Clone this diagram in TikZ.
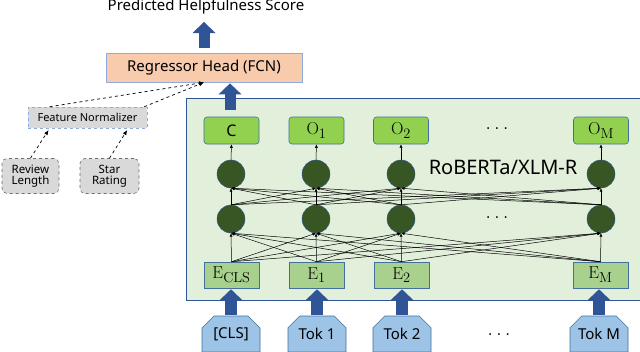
\documentclass[tikz,border=0pt]{standalone}
\usepackage[no-math]{fontspec}
\setmainfont{Noto Sans}
\usetikzlibrary{arrows.meta,shapes.misc}
\definecolor{arrowblue}{RGB}{47,85,151}
\definecolor{peach}{RGB}{248,203,173}
\definecolor{bordblue}{RGB}{143,170,220}
\definecolor{encfill}{RGB}{226,239,218}
\definecolor{outgreen}{RGB}{146,208,80}
\definecolor{embgreen}{RGB}{169,209,142}
\definecolor{nodegreen}{RGB}{55,86,35}
\definecolor{tokblue}{RGB}{157,195,230}
\definecolor{tokbord}{RGB}{65,113,156}
\definecolor{featgray}{RGB}{217,217,217}
\definecolor{dashgray}{RGB}{110,110,110}
\tikzset{
  fs/.style={font=\fontsize{#1}{#1}\selectfont},
  bigarrow/.style={draw=arrowblue, line width=11pt, -{Triangle[width=23pt,length=11pt,line width=0pt,color=arrowblue]}},
  regbox/.style={draw=bordblue, fill=peach, line width=0.8pt, minimum width=196pt, minimum height=29pt, inner sep=0pt, fs=15},
  encbox/.style={draw=arrowblue, fill=encfill, line width=1pt, inner sep=0pt},
  outbox/.style={draw=tokbord, fill=outgreen, rounded corners=3pt, line width=0.6pt, minimum width=55pt, minimum height=27pt, inner sep=0pt},
  embbox/.style={draw=tokbord, fill=embgreen, line width=0.6pt, minimum width=55pt, minimum height=26pt, inner sep=0pt},
  neuron/.style={circle, draw=arrowblue, fill=nodegreen, line width=0.4pt, minimum size=28pt, inner sep=0pt},
  tokbox/.style={chamfered rectangle, chamfered rectangle corners={north west,north east}, chamfered rectangle xsep=6pt, chamfered rectangle ysep=6pt, draw=tokbord, fill=tokblue, line width=0.6pt, minimum width=58pt, minimum height=36pt, inner sep=0pt, fs=15},
  featbox/.style={draw=bordblue, dashed, fill=featgray, line width=0.6pt, minimum width=119pt, minimum height=21pt, inner sep=0pt, fs=11},
  inbox/.style={draw=dashgray, dashed, fill=featgray, rounded corners=5pt, line width=0.6pt, minimum height=35pt, inner sep=0pt, align=center, fs=11.5},
  link/.style={draw=black, line width=0.5pt, -{Latex[length=3.5pt,width=3pt]}},
  dlink/.style={draw=black, dashed, line width=0.7pt, -{Latex[length=5pt,width=4pt]}},
  dots/.style={fs=14, inner sep=0pt},
  serif/.style={fs=19}
}
\begin{document}
\begin{tikzpicture}[x=1pt,y=-1pt]
\clip (0,0) rectangle (640,351);
\fill[white] (0,0) rectangle (640,351);

% encoder background
\node[encbox, minimum width=470pt, minimum height=202pt] (enc) at (421,199) {};

% title and regressor
\node[fs=15, inner sep=0pt] (title) at (206,6.5) {Predicted Helpfulness Score};
\node[regbox] (reg) at (204,67.5) {Regressor Head (FCN)};
\coordinate (scoretip) at (204,22);
\draw[bigarrow, shorten <=5pt] (reg.north) -- (scoretip);
\coordinate (encout) at (230,110);
\draw[bigarrow, shorten >=1pt] (encout) -- (reg.south -| encout);

% feature side
\node[featbox] (fn) at (87.5,117.5) {Feature Normalizer};
\node[inbox, minimum width=57pt] (rev) at (30.5,176) {Review\\[-1pt]Length};
\node[inbox, minimum width=59pt] (star) at (109.5,176) {Star\\[-1pt]Rating};
\draw[dlink, shorten >=2pt] (rev.north) -- ([xshift=22pt]fn.south west);
\draw[dlink, shorten >=2pt] (star.north) -- ([xshift=-19pt]fn.south east);
\draw[dlink] ([xshift=22pt]fn.north west) -- (reg.south);
\draw[dlink] ([xshift=-3pt]fn.north east) -- (reg.south);

% outputs
\node[outbox, fs=16] (o0) at (231.5,130.5) {C};
\node[outbox, serif] (o1) at (316.5,130.5) {$\mathrm{O}_1$};
\node[outbox, serif] (o2) at (401,130.5) {$\mathrm{O}_2$};
\node[outbox, serif] (oM) at (601,130.5) {$\mathrm{O}_{\mathrm{M}}$};
\node[dots] (odots) at (497,131) {·\hspace{5pt}·\hspace{5pt}·};

% neurons
\foreach \n/\x in {0/231,1/316,2/401,M/601}{
  \node[neuron] (b\n) at (\x,174) {};
  \node[neuron] (a\n) at (\x,219) {};
}
\node[dots] (adots) at (497,220) {·\hspace{5pt}·\hspace{5pt}·};
\node[fs=20, inner sep=0pt] (model) at (503,167) {RoBERTa/XLM-R};

% embeddings
\node[embbox, serif] (e0) at (231.5,275) {$\mathrm{E}_{\mathrm{CLS}}$};
\node[embbox, serif] (e1) at (316.5,275) {$\mathrm{E}_1$};
\node[embbox, serif] (e2) at (401.5,275) {$\mathrm{E}_2$};
\node[embbox, serif] (eM) at (600.5,275) {$\mathrm{E}_{\mathrm{M}}$};

% connections
\foreach \i in {0,1,2,M}{
  \foreach \j in {0,1,2,M}{
    \draw[link] (e\i.north) -- (a\j.south);
    \draw[link] (a\i.north) -- (b\j.south);
  }
  \draw[link] (b\i.north) -- (o\i.south);
}

% tokens
\node[tokbox] (t0) at (231,334) {[CLS]};
\node[tokbox] (t1) at (317,334) {Tok 1};
\node[tokbox] (t2) at (402,334) {Tok 2};
\node[tokbox] (tM) at (599,334) {Tok M};
\node[dots] (tdots) at (499,337) {·\hspace{5pt}·\hspace{5pt}·};
\foreach \n in {0,1,2,M}{
  \draw[bigarrow, line width=12pt, shorten <=1pt, shorten >=1pt] (t\n.north) -- (t\n.north |- e\n.south);
}
\end{tikzpicture}
\end{document}
